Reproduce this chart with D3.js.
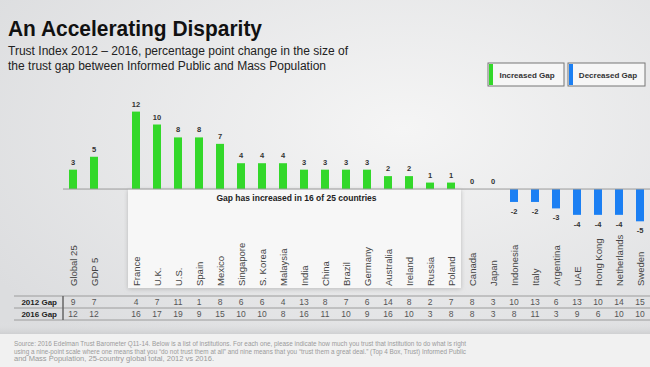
<!DOCTYPE html>
<html>
<head>
<meta charset="utf-8">
<script src="https://cdn.jsdelivr.net/npm/d3@7"></script>
<style>
  html, body { margin: 0; padding: 0; background: #e9eaeb; }
  svg { display: block; font-family: "Liberation Sans", Arial, sans-serif; }
</style>
</head>
<body>
<svg width="650" height="367"></svg>
<script>
"use strict";

// data
const categories = ["Global 25", "GDP 5", "France", "U.K.", "U.S.", "Spain", "Mexico", "Singapore",
    "S. Korea", "Malaysia", "India", "China", "Brazil", "Germany", "Australia", "Ireland", "Russia",
    "Poland", "Canada", "Japan", "Indonesia", "Italy", "Argentina", "UAE", "Hong Kong", "Netherlands", "Sweden"];
const gapChange = [3, 5, 12, 10, 8, 8, 7, 4, 4, 4, 3, 3, 3, 3, 2, 2, 1, 1, 0, 0, -2, -2, -3, -4, -4, -4, -5];
const gap2012 = [9, 7, 4, 7, 11, 1, 8, 6, 6, 4, 13, 8, 7, 6, 14, 8, 2, 7, 8, 3, 10, 13, 6, 13, 10, 14, 15];
const gap2016 = [12, 12, 16, 17, 19, 9, 15, 10, 10, 8, 16, 11, 10, 9, 16, 10, 3, 8, 8, 3, 8, 11, 3, 9, 6, 10, 10];
const rowLabels = ["2012 Gap", "2016 Gap"];
const legendLabels = ["Increased Gap", "Decreased Gap"];

const green = "#33d82a";
const blue = "#1b7ff3";

const data = categories.map((c, i) => ({ name: c, value: gapChange[i], g12: gap2012[i], g16: gap2016[i] }));

const svg = d3.select("svg");
const W = 650, H = 367;

// background
const defs = svg.append("defs");
const bg = defs.append("radialGradient").attr("id", "bg")
    .attr("cx", "62%").attr("cy", "35%").attr("r", "75%");
bg.append("stop").attr("offset", "0%").attr("stop-color", "#f5f5f5");
bg.append("stop").attr("offset", "100%").attr("stop-color", "#dcdddf");

const band = defs.append("linearGradient").attr("id", "band").attr("x1", 0).attr("x2", 0).attr("y1", 0).attr("y2", 1);
band.append("stop").attr("offset", "0%").attr("stop-color", "#e2e3e4").attr("stop-opacity", 0);
band.append("stop").attr("offset", "100%").attr("stop-color", "#cfd0d2").attr("stop-opacity", 1);

const shadow = defs.append("filter").attr("id", "shadow").attr("x", "-5%").attr("y", "-5%").attr("width", "110%").attr("height", "115%");
shadow.append("feDropShadow").attr("dx", 0).attr("dy", 1).attr("stdDeviation", 2)
    .attr("flood-color", "#999").attr("flood-opacity", 0.6);

svg.append("rect").attr("width", W).attr("height", H).attr("fill", "url(#bg)");
svg.append("rect").attr("x", 0).attr("y", 322).attr("width", W).attr("height", 12).attr("fill", "url(#band)");
svg.append("rect").attr("x", 0).attr("y", 334).attr("width", W).attr("height", H - 334).attr("fill", "#f1f1f1");

// title
svg.append("text")
    .attr("x", 8).attr("y", 36)
    .attr("font-size", 22).attr("font-weight", "bold").attr("fill", "#111")
    .attr("textLength", 254).attr("lengthAdjust", "spacingAndGlyphs")
    .text("An Accelerating Disparity");

svg.append("text")
    .attr("x", 8).attr("y", 55)
    .attr("font-size", 12).attr("fill", "#222")
    .attr("textLength", 340).attr("lengthAdjust", "spacingAndGlyphs")
    .text("Trust Index 2012 \u2013 2016, percentage point change in the size of");

svg.append("text")
    .attr("x", 8).attr("y", 70)
    .attr("font-size", 12).attr("fill", "#222")
    .attr("textLength", 318).attr("lengthAdjust", "spacingAndGlyphs")
    .text("the trust gap between Informed Public and Mass Population");

// legend
const legend = svg.append("g").selectAll("g")
    .data(legendLabels)
    .enter().append("g")
    .attr("transform", (d, i) => `translate(${488 + i * 80}, 63)`);

legend.append("rect")
    .attr("width", (d, i) => i ? 77 : 76).attr("height", 23)
    .attr("fill", "#f6f6f6").attr("stroke", "#777").attr("stroke-width", 1);
legend.append("rect")
    .attr("x", 1).attr("y", 1).attr("width", 4).attr("height", 21)
    .attr("fill", (d, i) => i ? blue : green);
legend.append("text")
    .attr("x", (d, i) => i ? 40 : 39).attr("y", 15)
    .attr("text-anchor", "middle")
    .attr("font-size", 8).attr("font-weight", "bold").attr("fill", "#333")
    .text(d => d);

// scales
const domain = categories.slice(0, 2).concat(["_spacer"], categories.slice(2));
const xScale = d3.scalePoint()
    .domain(domain)
    .range([62.5, 650.5])
    .padding(0.5);

const yScale = d3.scaleLinear()
    .domain([-5, 12])
    .range([221.3, 111.6]);

const barW = 8;
const y0 = yScale(0);

// white panel behind the country labels
const firstIn = xScale("France"), lastIn = xScale("Poland");
svg.append("rect")
    .attr("x", firstIn - 8).attr("y", y0)
    .attr("width", lastIn - firstIn + 18).attr("height", 99)
    .attr("fill", "#f7f7f7")
    .attr("filter", "url(#shadow)");

svg.append("text")
    .attr("x", (firstIn + lastIn) / 2 + 3).attr("y", y0 + 12)
    .attr("text-anchor", "middle")
    .attr("font-size", 8.5).attr("font-weight", "bold").attr("fill", "#222")
    .text("Gap has increased in 16 of 25 countries");

// bars
const chart = svg.append("g");

chart.selectAll(".bar")
    .data(data.filter(d => d.value !== 0))
    .enter().append("rect")
    .attr("class", "bar")
    .attr("x", d => xScale(d.name) - barW / 2)
    .attr("y", d => yScale(Math.max(0, d.value)))
    .attr("width", barW)
    .attr("height", d => Math.abs(yScale(d.value) - y0))
    .attr("fill", d => d.value > 0 ? green : blue);

// baseline
svg.append("line")
    .attr("x1", 63).attr("x2", W)
    .attr("y1", y0).attr("y2", y0)
    .attr("stroke", "#9a9a9a").attr("stroke-width", 1);

// value labels
chart.selectAll(".value")
    .data(data)
    .enter().append("text")
    .attr("class", "value")
    .attr("x", d => xScale(d.name))
    .attr("y", d => d.value >= 0 ? yScale(d.value) - 5 : yScale(d.value) + 12)
    .attr("text-anchor", "middle")
    .attr("font-size", 7.5).attr("font-weight", "bold").attr("fill", "#333")
    .text(d => d.value);

// country labels
chart.selectAll(".country")
    .data(data)
    .enter().append("text")
    .attr("class", "country")
    .attr("transform", d => `translate(${xScale(d.name) + 3.5}, 286) rotate(-90)`)
    .attr("text-anchor", "start")
    .attr("font-size", 9.5).attr("fill", "#444")
    .text(d => d.name);

// table
const table = svg.append("g");
[296, 308, 320].forEach(y => {
    table.append("line")
        .attr("x1", 14).attr("x2", W)
        .attr("y1", y).attr("y2", y)
        .attr("stroke", "#9c9c9c").attr("stroke-width", 1);
});
table.append("line")
    .attr("x1", 63).attr("x2", 63)
    .attr("y1", 296).attr("y2", 320)
    .attr("stroke", "#666").attr("stroke-width", 1.5);

table.selectAll(".rowlabel")
    .data(rowLabels)
    .enter().append("text")
    .attr("class", "rowlabel")
    .attr("x", 57).attr("y", (d, i) => 305 + i * 12)
    .attr("text-anchor", "end")
    .attr("font-size", 8).attr("font-weight", "bold").attr("fill", "#222")
    .text(d => d);

table.selectAll(".v12")
    .data(data)
    .enter().append("text")
    .attr("x", d => xScale(d.name))
    .attr("y", 305)
    .attr("text-anchor", "middle")
    .attr("font-size", 8.5).attr("fill", "#555")
    .text(d => d.g12);

table.selectAll(".v16")
    .data(data)
    .enter().append("text")
    .attr("x", d => xScale(d.name))
    .attr("y", 317)
    .attr("text-anchor", "middle")
    .attr("font-size", 8.5).attr("fill", "#555")
    .text(d => d.g16);

// source note
const source = [
    "Source: 2016 Edelman Trust Barometer Q11-14. Below is a list of institutions. For each one, please indicate how much you trust that institution to do what is right",
    "using a nine-point scale where one means that you \u201cdo not trust them at all\u201d and nine means that you \u201ctrust them a great deal.\u201d (Top 4 Box, Trust) Informed Public",
    "and Mass Population, 25-country global total, 2012 vs 2016."
];
const sourceLen = [452, 452, 200];
svg.append("g").selectAll("text")
    .data(source)
    .enter().append("text")
    .attr("x", 14).attr("y", (d, i) => 346 + i * 7.5)
    .attr("font-size", 6.3).attr("fill", "#9a9a9a")
    .attr("textLength", (d, i) => sourceLen[i]).attr("lengthAdjust", "spacingAndGlyphs")
    .text(d => d);
</script>
</body>
</html>
